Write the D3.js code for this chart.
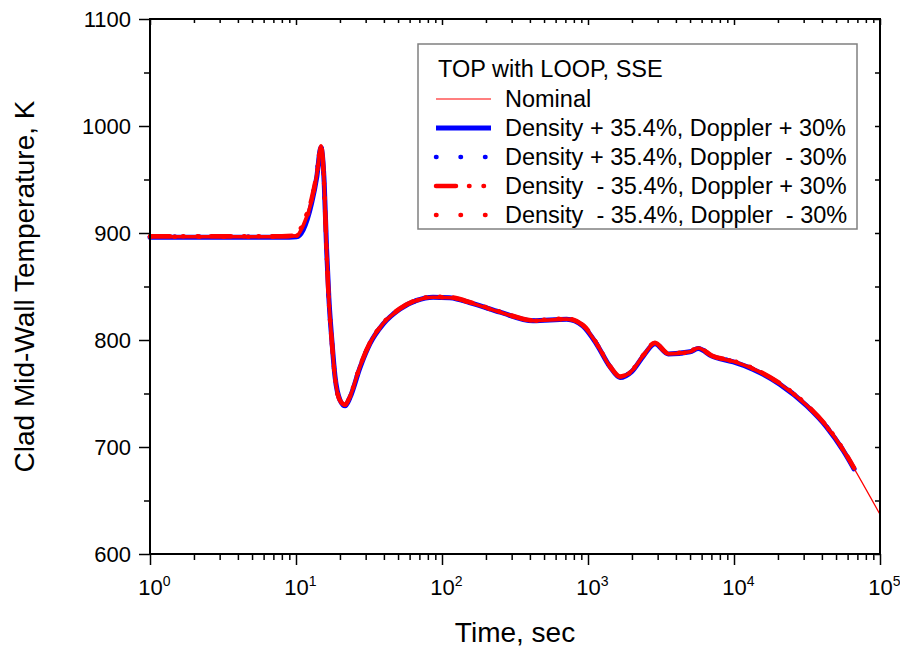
<!DOCTYPE html>
<html>
<head>
<meta charset="utf-8">
<script src="https://cdn.jsdelivr.net/npm/d3@7"></script>
<style>
  body { margin: 0; background: #fff; }
  svg text { font-family: Arial, "Liberation Sans", sans-serif; fill: #000; }
</style>
</head>
<body>
<div id="chart"></div>
<script>
// time (s) and clad mid-wall temperature (K)
var times = [1, 2, 5, 8, 10.1, 11.2, 12.8, 13.9, 14.8, 15.6, 16.2, 16.8, 17.6, 18.5, 20.0, 21.7, 23.4, 27.4, 32.1, 39.6, 51.6, 67.1, 86.8, 113, 163, 250, 420, 714, 924, 1147, 1415, 1656, 1992, 2392, 2875, 3548, 4997, 5694, 7035, 9890, 13550, 20650, 31460, 43150, 56100, 66400]
var nominalTimes = times.concat([100000])
var nominal   = [896.5, 896.5, 896.5, 896.5, 897, 905, 930, 955, 981, 946, 883.5, 837, 799, 765, 743.5, 739, 747, 775, 797, 815.5, 829, 837, 840, 839.5, 834, 826, 818, 819.5, 813.5, 796.5, 775, 765.5, 771, 785.5, 797, 787, 789, 792.5, 785, 780, 773, 759, 739, 719, 697, 680, 637]
var densPlusDopPlus  = [896, 896, 896, 896, 896.5, 903, 928, 953, 980, 947, 885, 839, 800, 766, 744, 738.5, 746, 774, 796.5, 815, 829, 837, 840, 839.5, 834, 826, 818, 819.5, 813, 796, 775, 765, 770.5, 785, 796.5, 787, 789, 792, 785, 779.5, 772.5, 758.5, 738.5, 718.5, 696.5, 679.5]
var densPlusDopMinus = [896.5, 896.5, 896.5, 896.5, 897, 906, 931, 956, 982, 946, 883, 836.5, 798.5, 764.5, 743, 738.5, 746.5, 775, 797, 815.5, 829, 837, 840, 839.5, 834, 826, 818, 819.5, 813.5, 796.5, 775, 765.5, 771, 785.5, 797, 787, 789, 792.5, 785, 780, 773, 759, 739, 719, 697, 680]
var densMinusDopPlus = [897, 897, 897, 897, 898, 910, 932, 956, 981, 945, 882, 836, 798, 765, 743.5, 739.5, 747.5, 775.5, 797.5, 816, 829.5, 837.5, 840.5, 840, 834.5, 826.5, 818.5, 820, 814, 797, 775.5, 766, 771.5, 786, 797.5, 787.5, 789.5, 793, 785.5, 780.5, 773.5, 759.5, 739.5, 719.5, 697.5, 680.5]
var densMinusDopMinus = [896.5, 896.5, 896.5, 896.5, 897.5, 907, 930, 955, 981.5, 946, 883.5, 837, 799, 765, 743.5, 739, 747, 775, 797, 815.5, 829, 837, 840, 839.5, 834, 826, 818, 819.5, 813.5, 796.5, 775, 765.5, 771, 785.5, 797, 787, 789, 792.5, 785, 780, 773, 759, 739, 719, 697, 680]

var yTicks = [600, 700, 800, 900, 1000, 1100]
var yMinor = [650, 750, 850, 950, 1050]
var xTicks = [1, 10, 100, 1000, 10000, 100000]
var xExp = ["0", "1", "2", "3", "4", "5"]

var legendTitle = "TOP with LOOP, SSE"
var legendLabels = ["Nominal", "Density + 35.4%, Doppler + 30%", "Density + 35.4%, Doppler  - 30%", "Density  - 35.4%, Doppler + 30%", "Density  - 35.4%, Doppler  - 30%"]

var W = 900, H = 649
var margin = {top: 19, right: 20, bottom: 95, left: 150}
var width = W - margin.left - margin.right
var height = H - margin.top - margin.bottom

var svg = d3.select("#chart").append("svg").attr("width", W).attr("height", H)
var g = svg.append("g").attr("transform", "translate(" + margin.left + "," + margin.top + ")")

var x = d3.scaleLog().domain([1, 100000]).range([0, width])
var y = d3.scaleLinear().domain([600, 1100]).range([height, 0])

var xMinor = []
for (var e = 0; e < 5; e++) for (var k = 2; k < 10; k++) xMinor.push(k * Math.pow(10, e))

// series
var styles = [
  {data: nominal, t: nominalTimes, color: "#ff0000", w: 1.2, dash: null},
  {data: densPlusDopPlus, t: times, color: "#0000ff", w: 5, dash: null},
  {data: densPlusDopMinus, t: times, color: "#0000ff", w: 4.5, dash: "0.5 24"},
  {data: densMinusDopPlus, t: times, color: "#ff0000", w: 4.5, dash: "20 13 0.5 14 0.5 13"},
  {data: densMinusDopMinus, t: times, color: "#ff0000", w: 4.5, dash: "0.5 24"}
]

var line = d3.line()
  .x(function(d) { return x(d[0]) })
  .y(function(d) { return y(d[1]) })
  .curve(d3.curveMonotoneX)

var plot = g.append("g")
// thick variants first, nominal thin line on top is hidden except tail
styles.slice(1).forEach(function(s) {
  plot.append("path")
    .datum(s.data.map(function(v, i) { return [s.t[i], v] }))
    .attr("d", line)
    .style("fill", "none")
    .style("stroke", s.color)
    .style("stroke-width", s.w)
    .style("stroke-linecap", "round")
    .style("stroke-linejoin", "round")
    .style("stroke-dasharray", s.dash)
})
// fill gaps of dashed reds with a solid red core
plot.append("path")
  .datum(densMinusDopMinus.map(function(v, i) { return [times[i], v] }))
  .attr("d", line)
  .style("fill", "none").style("stroke", "#ff0000").style("stroke-width", 3.6)
plot.append("path")
  .datum(nominal.map(function(v, i) { return [nominalTimes[i], v] }))
  .attr("d", line)
  .style("fill", "none").style("stroke", "#ff0000").style("stroke-width", 1.2)

// axes
function styleAxis(sel) {
  sel.select(".domain").remove()
  sel.selectAll("line").style("stroke", "#000").style("stroke-width", 1.5)
}
g.append("g").attr("transform", "translate(0," + height + ")")
  .call(d3.axisBottom(x).tickValues(xMinor).tickSize(6).tickFormat("")).call(styleAxis)
var xAx = g.append("g").attr("transform", "translate(0," + height + ")")
  .call(d3.axisBottom(x).tickValues(xTicks).tickSize(11).tickFormat("")).call(styleAxis)
xAx.selectAll(".tick").each(function(d, i) {
  var t = d3.select(this).append("text")
    .attr("y", 41).attr("text-anchor", "middle")
    .style("font-size", "22px")
  t.append("tspan").text("10")
  t.append("tspan").attr("dy", -9).style("font-size", "14px").text(xExp[i])
  t.attr("dx", 4)
})
g.append("g").call(d3.axisTop(x).tickValues(xMinor).tickSize(-4).tickFormat("")).call(styleAxis)
g.append("g").call(d3.axisTop(x).tickValues(xTicks).tickSize(-6).tickFormat("")).call(styleAxis)

g.append("g").call(d3.axisLeft(y).tickValues(yMinor).tickSize(6).tickFormat("")).call(styleAxis)
g.append("g").call(d3.axisLeft(y).tickValues(yTicks).tickSize(11).tickFormat(d3.format("d")).tickPadding(8))
  .call(styleAxis)
  .selectAll("text").style("font-size", "22px")
g.append("g").attr("transform", "translate(" + width + ",0)")
  .call(d3.axisRight(y).tickValues(yMinor.concat(yTicks)).tickSize(-5).tickFormat("")).call(styleAxis)

// frame
g.append("rect").attr("width", width).attr("height", height)
  .style("fill", "none").style("stroke", "#000").style("stroke-width", 2)

// axis titles
svg.append("text").attr("x", margin.left + width / 2).attr("y", 642)
  .attr("text-anchor", "middle").style("font-size", "28px").text("Time, sec")
svg.append("text").attr("transform", "translate(34," + (margin.top + height / 2) + ") rotate(-90)")
  .attr("text-anchor", "middle").style("font-size", "28px").text("Clad Mid-Wall Temperature, K")

// legend
var lg = svg.append("g").attr("transform", "translate(418,44)")
lg.append("rect").attr("width", 439).attr("height", 185)
  .style("fill", "#fff").style("stroke", "#808080").style("stroke-width", 1.5)
lg.append("text").attr("x", 20).attr("y", 33).style("font-size", "23.5px").text(legendTitle)
legendLabels.forEach(function(lab, i) {
  var by = 62.5 + i * 29
  var s = styles[i]
  lg.append("line").attr("x1", 18).attr("x2", 73).attr("y1", by - 7.5).attr("y2", by - 7.5)
    .style("stroke", s.color).style("stroke-width", i == 0 ? 1.2 : s.w)
    .style("stroke-linecap", s.dash ? "round" : "butt")
    .style("stroke-dasharray", s.dash)
  lg.append("text").attr("x", 87).attr("y", by).style("font-size", "23.5px")
    .style("white-space", "pre").attr("xml:space", "preserve").text(lab)
})
</script>
</body>
</html>
